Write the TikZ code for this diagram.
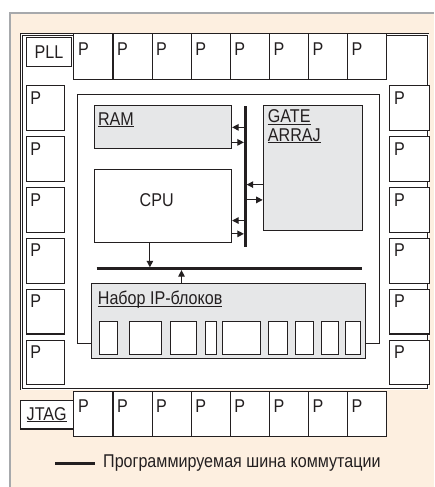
\documentclass[tikz,border=0pt]{standalone}
\usepackage{fontspec}
\setmainfont{Liberation Sans}[FakeStretch=0.87]
\usetikzlibrary{arrows.meta,positioning}
\definecolor{chipink}{HTML}{231F20}
\definecolor{creamfill}{HTML}{FDEFE0}
\definecolor{framegray}{HTML}{A7A9AC}
\definecolor{blockgray}{HTML}{E6E7E8}
\newcommand\rulebelow[1]{\setbox0=\hbox{#1}\rlap{\rule[-2pt]{\wd0}{1pt}}\box0}
\tikzset{
  lbl/.style={font=\fontsize{18.5}{18.3}\selectfont,text=chipink,inner sep=0pt},
  box/.style={draw=chipink,line width=1.1pt,inner sep=0pt,anchor=north west},
  pad/.style={box,fill=white,minimum width=39.1pt,minimum height=45.4pt,
    label={[lbl,anchor=north west,xshift=4.5pt,yshift=-#1]north west:P}},
  pad/.default=8pt,
  corner/.style n args={3}{label={[lbl,anchor=north west,align=left,xshift=#1,yshift=-#2]north west:#3}},
  bus/.style={draw=chipink,line width=2.8pt},
  busarrow/.style={draw=chipink,line width=1.1pt,-{Triangle[length=6.5pt,width=6.5pt]}},
}
\begin{document}
\begin{tikzpicture}[x=1pt,y=-1pt]
        \useasboundingbox (0,0) rectangle (434,487);
        % page
        \fill[white] (0,0) rectangle (434,487);
        \fill[creamfill] (10,13.5) rectangle (434,487);
        \draw[framegray,line width=2pt] (10,487) -- (10,13.5) -- (434,13.5);
        % chip and core
        \node[box,fill=white,line width=0.7pt,double=white,double distance=1pt,minimum width=406.5pt,minimum height=354.5pt] (chip) at (21.2,34.2) {};
        \node[box,fill=white,minimum width=302.6pt,minimum height=249pt] (core) at (76.7,94) {};
        % pads round the core
        \foreach \i in {0,...,7}{
          \node[pad=9.5pt] (ptop\i) at (73.3+39.1*\i,33.3) {};
          \node[pad=8.5pt] (pbot\i) at (73.3+39.1*\i,390.7) {};}
        \foreach \j in {0,...,5}{
          \node[pad=6pt,minimum width=38.6pt,minimum height=44.5pt] (pleft\j) at (25.7,85.3+50.9*\j) {};
          \node[pad=6pt,minimum width=39.2pt,minimum height=44.5pt] (pright\j) at (389.3,85.3+50.9*\j) {};}
        \node[box,lbl,fill=white,anchor=center,minimum width=44.3pt,minimum height=29pt] (pll) at (48.9,52.2) {PLL};
        \node[box,lbl,fill=white,anchor=center,minimum width=53.3pt,minimum height=28.3pt] (jtag) at (46.7,414.8) {\rulebelow{JTAG}};
        % blocks inside the core
        \node[box,fill=blockgray,minimum width=136.7pt,minimum height=43pt,corner={3.5pt}{7pt}{\rulebelow{RAM}}] (ram) at (94.3,105.3) {};
        \node[box,fill=blockgray,minimum width=99.3pt,minimum height=124.7pt,corner={5pt}{4.5pt}{\rulebelow{GATE}\\\rulebelow{ARRAJ}}] (gate) at (262.7,105.3) {};
        \node[box,fill=white,minimum width=136.7pt,minimum height=72.4pt,
          label={[lbl,anchor=center,xshift=62.4pt,yshift=-30.7pt]north west:CPU}] (cpu) at (94.3,169.3) {};
        \node[box,fill=blockgray,minimum width=274.3pt,minimum height=75pt,corner={6.7pt}{8.2pt}{\rulebelow{Набор IP-блоков}}] (ipset) at (91,283) {};
        \foreach \a/\b [count=\k] in {99/116.7,129/161,169.5/196,204.5/215.7,222/260.2,268.2/286.5,294.5/313.2,320.8/337.5,344.5/359.7}{
          \pgfmathsetmacro\ipw{\b-\a}
          \node[box,fill=white,minimum width=\ipw pt,minimum height=33pt] (ip\k) at (\a,321) {};}
        % switching buses
        \coordinate (vbusT) at (245.3,106);
        \coordinate (vbusB) at (245.3,247.3);
        \coordinate (hbusL) at (96.7,268.7);
        \coordinate (hbusR) at (362,268.7);
        \draw[bus] (vbusT) -- (vbusB);
        \draw[bus] (hbusL) -- (hbusR);
        % links to the buses
        \coordinate (ramout) at ([yshift=-15pt]ram.east);
        \draw[busarrow] (ram.east -| vbusT) -- (ram.east);
        \draw[busarrow,shorten >=1.4pt] (ramout) -- (ramout -| vbusT);
        \coordinate (gateout) at ([yshift=-16.4pt]gate.west);
        \coordinate (gatein) at ([yshift=-31.7pt]gate.west);
        \draw[busarrow,shorten >=1.4pt] (gateout) -- (gateout -| vbusT);
        \draw[busarrow] (gatein -| vbusT) -- (gatein);
        \coordinate (cpuin) at ([yshift=-14.5pt]cpu.east);
        \coordinate (cpuout) at ([yshift=-27.8pt]cpu.east);
        \draw[busarrow] (cpuin -| vbusT) -- (cpuin);
        \draw[busarrow,shorten >=1.4pt] (cpuout) -- (cpuout -| vbusT);
        \coordinate (cpudown) at ([xshift=-13.3pt]cpu.south);
        \coordinate (ipup) at ([xshift=-47.2pt]ipset.north);
        \draw[busarrow,shorten >=1.4pt] (cpudown) -- (cpudown |- hbusL);
        \draw[busarrow,shorten >=1.4pt] (ipup) -- (ipup |- hbusL);
        % key
        \coordinate (keyA) at (55,463.3);
        \coordinate (keyB) at (95,463.3);
        \draw[bus] (keyA) -- (keyB);
        \node[lbl,right=8pt of keyB] (keytext) {Программируемая шина коммутации};
\end{tikzpicture}
\end{document}
